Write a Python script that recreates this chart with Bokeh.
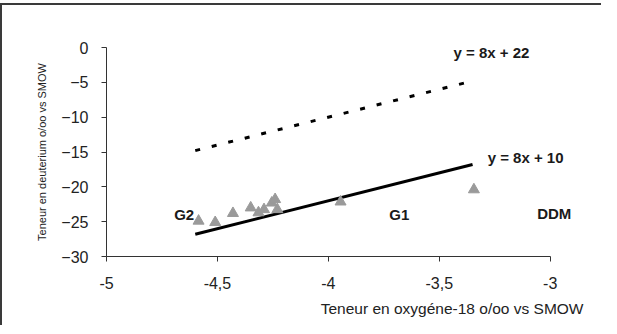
from bokeh.plotting import figure
from bokeh.models import FixedTicker, Label, Range1d, Title
from bokeh.embed import file_html
from bokeh.resources import INLINE

# Data
pts_x = [-4.585, -4.51, -4.43, -4.35, -4.315, -4.29, -4.255, -4.24, -4.23, -3.945, -3.344]
pts_y = [-24.9, -25.1, -23.8, -23.0, -23.7, -23.25, -22.3, -21.8, -23.25, -22.15, -20.4]
line_x = [-4.6, -3.35]
solid_y = [-26.8, -16.8]     # y = 8x + 10
dashed_y = [-14.8, -4.8]     # y = 8x + 22
x_ticks = [-5, -4.5, -4, -3.5, -3]
x_tick_labels = ["-5", "-4,5", "-4", "-3,5", "-3"]
y_ticks = [0, -5, -10, -15, -20, -25, -30]
group_labels = ["G2", "G1", "DDM"]
group_x = [-4.65, -3.68, -3.059]
group_y = [-24.0, -24.0, -23.85]
eq_labels = ["y = 8x + 22", "y = 8x + 10"]
eq_x = [-3.436, -3.282]
eq_y = [-0.76, -15.8]

FONT = "Liberation Sans"
AX = "#333333"

p = figure(width=601, height=322, output_backend="svg", toolbar_location=None,
           x_range=Range1d(-5, -2.85), y_range=Range1d(-30, 0),
           min_border_left=104, min_border_right=20, min_border_top=42, min_border_bottom=71)
p.styles = {"border-top": "2px solid #3a3a3a", "border-left": "2px solid #3a3a3a", "margin-top": "3px"}
p.outline_line_color = None
p.xgrid.visible = False
p.ygrid.visible = False
p.background_fill_color = "white"
p.border_fill_color = "white"

for ax in (p.xaxis[0], p.yaxis[0]):
    ax.axis_line_color = AX
    ax.major_tick_line_color = AX
    ax.minor_tick_line_color = None
    ax.major_tick_in = 0
    ax.major_tick_out = 5
    ax.major_label_text_font = FONT
    ax.major_label_text_font_size = "16px"
    ax.major_label_text_color = "#222222"

p.xaxis.ticker = FixedTicker(ticks=x_ticks)
p.xaxis.bounds = (-5, -3)
p.xaxis.major_label_overrides = {t: l for t, l in zip(x_ticks, x_tick_labels)}
p.xaxis.major_label_standoff = 15
p.yaxis.ticker = FixedTicker(ticks=y_ticks)
p.yaxis.major_label_standoff = 13

p.yaxis.axis_label = "Teneur en deuterium o/oo vs SMOW"
p.yaxis.axis_label_text_font = FONT
p.yaxis.axis_label_text_font_size = "11px"
p.yaxis.axis_label_text_font_style = "normal"
p.yaxis.axis_label_text_color = "#222222"
p.yaxis.axis_label_standoff = 10

p.add_layout(Title(text="Teneur en oxygéne-18 o/oo vs SMOW", align="right",
                   text_font=FONT, text_font_size="15.5px", text_font_style="normal",
                   text_color="#222222", standoff=13), "below")

p.line(line_x, dashed_y, line_color="black", line_width=3, line_dash="5 12")
p.line(line_x, solid_y, line_color="black", line_width=3)
p.scatter(pts_x, pts_y, marker="triangle", size=11, fill_color="#9a9a9a", line_color="#9a9a9a")

for t, x, y in zip(group_labels, group_x, group_y):
    p.add_layout(Label(x=x, y=y, text=t, text_font=FONT, text_font_size="15px",
                       text_font_style="bold", text_color="#1a1a1a",
                       text_align="center" if t != "DDM" else "left", text_baseline="middle"))
for t, x, y in zip(eq_labels, eq_x, eq_y):
    p.add_layout(Label(x=x, y=y, text=t, text_font=FONT, text_font_size="15px",
                       text_font_style="bold", text_color="#1a1a1a",
                       text_align="left", text_baseline="middle"))

open("out.html", "w").write(file_html(p, INLINE))
